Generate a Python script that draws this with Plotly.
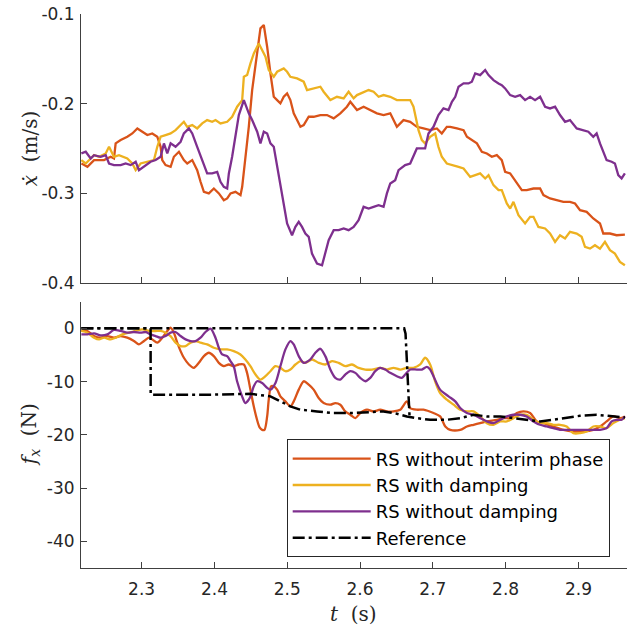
import plotly.graph_objects as go

# ---------------- data: top panel (velocity, m/s) ----------------
t_v_interim = [2.2172, 2.2255, 2.2346, 2.2483, 2.2575, 2.2620, 2.2643, 2.2712, 2.2803, 2.2872, 2.2941, 2.3009,
               2.3078, 2.3146, 2.3215, 2.3261, 2.3283, 2.3329, 2.3398, 2.3443, 2.3512, 2.3580, 2.3626, 2.3695,
               2.3763, 2.3809, 2.3855, 2.3923, 2.3992, 2.4061, 2.4129, 2.4175, 2.4221, 2.4289, 2.4358, 2.4381,
               2.4426, 2.4472, 2.4518, 2.4587, 2.4632, 2.4678, 2.4724, 2.4769, 2.4815, 2.4861, 2.4906, 2.4952,
               2.4998, 2.5043, 2.5089, 2.5135, 2.5181, 2.5226, 2.5295, 2.5363, 2.5455, 2.5546, 2.5638, 2.5729,
               2.5820, 2.5866, 2.5958, 2.6049, 2.6140, 2.6232, 2.6323, 2.6415, 2.6506, 2.6597, 2.6689, 2.6780,
               2.6872, 2.6963, 2.7055, 2.7123, 2.7192, 2.7239, 2.7331, 2.7422, 2.7468, 2.7559, 2.7605, 2.7673,
               2.7742, 2.7810, 2.7879, 2.7947, 2.7993, 2.8062, 2.8153, 2.8222, 2.8290, 2.8382, 2.8473, 2.8519,
               2.8610, 2.8702, 2.8793, 2.8884, 2.8953, 2.9022, 2.9113, 2.9204, 2.9296, 2.9341, 2.9433, 2.9524,
               2.9638]
v_interim = [-0.2667, -0.2704, -0.2629, -0.2629, -0.2592, -0.2611, -0.2443, -0.2406, -0.2369, -0.2332, -0.2276,
             -0.2313, -0.2350, -0.2332, -0.2369, -0.2481, -0.2629, -0.2685, -0.2704, -0.2592, -0.2536, -0.2629,
             -0.2667, -0.2629, -0.2741, -0.2871, -0.2983, -0.3001, -0.2946, -0.3001, -0.3076, -0.3057, -0.3001,
             -0.2983, -0.3020, -0.2927, -0.2629, -0.2258, -0.1848, -0.1439, -0.1160, -0.1123, -0.1365, -0.1662,
             -0.1923, -0.1960, -0.1997, -0.1923, -0.1885, -0.1960, -0.2108, -0.2183, -0.2258, -0.2239, -0.2146,
             -0.2146, -0.2127, -0.2127, -0.2164, -0.2108, -0.2034, -0.1979, -0.2071, -0.2034, -0.2071, -0.2108,
             -0.2127, -0.2108, -0.2258, -0.2183, -0.2202, -0.2258, -0.2276, -0.2295, -0.2276, -0.2332, -0.2258,
             -0.2258, -0.2276, -0.2295, -0.2369, -0.2425, -0.2443, -0.2536, -0.2555, -0.2592, -0.2574, -0.2629,
             -0.2760, -0.2778, -0.2890, -0.2964, -0.2964, -0.2946, -0.2946, -0.3020, -0.3057, -0.3076, -0.3095,
             -0.3095, -0.3113, -0.3188, -0.3206, -0.3280, -0.3336, -0.3448, -0.3448, -0.3467, -0.3460]

t_v_damp = [2.2172, 2.2232, 2.2300, 2.2346, 2.2415, 2.2506, 2.2552, 2.2620, 2.2689, 2.2758, 2.2803, 2.2872,
            2.2918, 2.2986, 2.3078, 2.3169, 2.3215, 2.3261, 2.3329, 2.3398, 2.3466, 2.3535, 2.3580, 2.3626,
            2.3695, 2.3763, 2.3832, 2.3900, 2.3969, 2.4015, 2.4083, 2.4175, 2.4243, 2.4312, 2.4381, 2.4404,
            2.4449, 2.4495, 2.4541, 2.4609, 2.4655, 2.4701, 2.4746, 2.4815, 2.4861, 2.4952, 2.4998, 2.5043,
            2.5135, 2.5226, 2.5272, 2.5363, 2.5455, 2.5500, 2.5592, 2.5683, 2.5775, 2.5843, 2.5912, 2.5958,
            2.6049, 2.6118, 2.6186, 2.6255, 2.6323, 2.6415, 2.6506, 2.6597, 2.6689, 2.6734, 2.6803, 2.6849,
            2.6894, 2.6963, 2.7032, 2.7077, 2.7123, 2.7192, 2.7285, 2.7353, 2.7422, 2.7513, 2.7582, 2.7650,
            2.7719, 2.7765, 2.7833, 2.7902, 2.7947, 2.8016, 2.8062, 2.8107, 2.8176, 2.8267, 2.8336, 2.8382,
            2.8450, 2.8542, 2.8610, 2.8679, 2.8747, 2.8816, 2.8884, 2.8976, 2.9044, 2.9090, 2.9159, 2.9227,
            2.9296, 2.9364, 2.9433, 2.9501, 2.9570, 2.9638]
v_damp = [-0.2629, -0.2667, -0.2611, -0.2574, -0.2592, -0.2555, -0.2481, -0.2592, -0.2574, -0.2592, -0.2611,
          -0.2667, -0.2741, -0.2667, -0.2648, -0.2629, -0.2481, -0.2369, -0.2350, -0.2332, -0.2295, -0.2239,
          -0.2202, -0.2258, -0.2239, -0.2276, -0.2220, -0.2183, -0.2202, -0.2183, -0.2220, -0.2202, -0.2146,
          -0.2034, -0.1960, -0.1700, -0.1681, -0.1551, -0.1439, -0.1328, -0.1402, -0.1476, -0.1625, -0.1700,
          -0.1644, -0.1607, -0.1644, -0.1700, -0.1718, -0.1755, -0.1848, -0.1830, -0.1811, -0.1867, -0.1960,
          -0.1923, -0.1941, -0.1867, -0.1941, -0.1904, -0.1867, -0.1848, -0.1867, -0.1923, -0.1904, -0.1923,
          -0.1960, -0.1960, -0.1960, -0.2034, -0.2295, -0.2406, -0.2443, -0.2369, -0.2332, -0.2481, -0.2592,
          -0.2667, -0.2685, -0.2704, -0.2723, -0.2816, -0.2797, -0.2778, -0.2834, -0.2797, -0.2909, -0.2964,
          -0.2964, -0.3113, -0.3169, -0.3095, -0.3243, -0.3336, -0.3262, -0.3262, -0.3374, -0.3392, -0.3448,
          -0.3541, -0.3467, -0.3504, -0.3430, -0.3448, -0.3485, -0.3597, -0.3616, -0.3578, -0.3616, -0.3541,
          -0.3634, -0.3672, -0.3765, -0.3802]

t_v_nodamp = [2.2172, 2.2232, 2.2300, 2.2346, 2.2437, 2.2506, 2.2552, 2.2620, 2.2712, 2.2780, 2.2849, 2.2918,
              2.2963, 2.3032, 2.3123, 2.3192, 2.3261, 2.3306, 2.3352, 2.3398, 2.3466, 2.3535, 2.3580, 2.3649,
              2.3695, 2.3763, 2.3832, 2.3900, 2.3969, 2.4038, 2.4083, 2.4129, 2.4175, 2.4198, 2.4243, 2.4289,
              2.4335, 2.4404, 2.4472, 2.4518, 2.4587, 2.4632, 2.4678, 2.4724, 2.4769, 2.4815, 2.4861, 2.4906,
              2.4952, 2.4998, 2.5066, 2.5112, 2.5158, 2.5203, 2.5249, 2.5295, 2.5340, 2.5409, 2.5478, 2.5523,
              2.5569, 2.5638, 2.5706, 2.5775, 2.5843, 2.5912, 2.5980, 2.6049, 2.6118, 2.6186, 2.6255, 2.6323,
              2.6369, 2.6415, 2.6483, 2.6529, 2.6620, 2.6689, 2.6734, 2.6780, 2.6849, 2.6894, 2.6940, 2.7009,
              2.7077, 2.7146, 2.7215, 2.7262, 2.7308, 2.7353, 2.7422, 2.7490, 2.7536, 2.7582, 2.7650, 2.7719,
              2.7765, 2.7833, 2.7902, 2.7947, 2.7993, 2.8062, 2.8130, 2.8199, 2.8267, 2.8336, 2.8404, 2.8473,
              2.8542, 2.8610, 2.8679, 2.8747, 2.8816, 2.8884, 2.8976, 2.9067, 2.9136, 2.9204, 2.9250, 2.9296,
              2.9341, 2.9387, 2.9456, 2.9501, 2.9547, 2.9593, 2.9638]
v_nodamp = [-0.2555, -0.2536, -0.2611, -0.2574, -0.2592, -0.2574, -0.2667, -0.2685, -0.2685, -0.2667, -0.2685,
            -0.2648, -0.2741, -0.2704, -0.2648, -0.2629, -0.2592, -0.2443, -0.2555, -0.2443, -0.2481, -0.2425,
            -0.2332, -0.2276, -0.2332, -0.2481, -0.2629, -0.2778, -0.2778, -0.2760, -0.2871, -0.2927, -0.2946,
            -0.2778, -0.2592, -0.2332, -0.2127, -0.1960, -0.2108, -0.2183, -0.2313, -0.2443, -0.2313, -0.2332,
            -0.2443, -0.2481, -0.2704, -0.2890, -0.3150, -0.3336, -0.3467, -0.3374, -0.3318, -0.3374, -0.3448,
            -0.3485, -0.3672, -0.3783, -0.3802, -0.3672, -0.3523, -0.3411, -0.3411, -0.3392, -0.3411, -0.3374,
            -0.3299, -0.3150, -0.3169, -0.3150, -0.3132, -0.3150, -0.3001, -0.2890, -0.2853, -0.2741, -0.2685,
            -0.2667, -0.2574, -0.2499, -0.2499, -0.2499, -0.2332, -0.2258, -0.2127, -0.2053, -0.2071, -0.1979,
            -0.1923, -0.1811, -0.1774, -0.1774, -0.1755, -0.1662, -0.1681, -0.1625, -0.1681, -0.1737, -0.1774,
            -0.1793, -0.1830, -0.1904, -0.1923, -0.1904, -0.1960, -0.1923, -0.1960, -0.1923, -0.2034, -0.2053,
            -0.2034, -0.2127, -0.2202, -0.2183, -0.2276, -0.2295, -0.2313, -0.2369, -0.2332, -0.2443, -0.2536,
            -0.2629, -0.2648, -0.2667, -0.2797, -0.2834, -0.2778]

# ---------------- data: bottom panel (force, N) ----------------
t_f_interim = [2.2172, 2.2255, 2.2346, 2.2437, 2.2529, 2.2620, 2.2712, 2.2803, 2.2894, 2.2963, 2.3032, 2.3100,
               2.3146, 2.3215, 2.3283, 2.3352, 2.3397, 2.3443, 2.3489, 2.3535, 2.3580, 2.3649, 2.3717, 2.3786,
               2.3855, 2.3923, 2.3991, 2.4060, 2.4128, 2.4197, 2.4265, 2.4334, 2.4403, 2.4448, 2.4494, 2.4540,
               2.4585, 2.4620, 2.4655, 2.4687, 2.4724, 2.4746, 2.4778, 2.4815, 2.4861, 2.4906, 2.4975, 2.5043,
               2.5089, 2.5158, 2.5226, 2.5295, 2.5363, 2.5432, 2.5500, 2.5592, 2.5660, 2.5729, 2.5797, 2.5866,
               2.5935, 2.6003, 2.6095, 2.6186, 2.6277, 2.6369, 2.6460, 2.6552, 2.6643, 2.6689, 2.6780, 2.6871,
               2.7009, 2.7100, 2.7171, 2.7239, 2.7376, 2.7468, 2.7559, 2.7650, 2.7742, 2.7879, 2.7970, 2.8062,
               2.8153, 2.8245, 2.8336, 2.8427, 2.8519, 2.8656, 2.8793, 2.8930, 2.9067, 2.9204, 2.9296, 2.9387,
               2.9478, 2.9570, 2.9638]
f_interim = [-0.50, -0.50, -1.45, -1.76, -1.45, -1.76, -1.45, -1.76, -2.39, -3.02, -2.39, -1.76, -2.08, -2.70,
             -1.76, -0.50, 0.13, -0.82, -2.70, -4.28, -5.53, -6.79, -7.42, -6.48, -5.22, -4.59, -5.22, -6.48,
             -7.11, -6.79, -7.11, -6.79, -6.79, -8.36, -11.51, -14.65, -17.17, -18.60, -19.06, -19.06, -16.54,
             -13.40, -10.88, -10.88, -11.51, -12.77, -13.71, -14.65, -13.71, -11.51, -9.94, -10.57, -11.51,
             -13.08, -14.03, -14.34, -14.03, -14.34, -15.60, -16.23, -16.86, -15.91, -15.28, -15.60, -15.28,
             -15.60, -15.60, -15.28, -13.71, -14.97, -15.28, -15.28, -15.91, -16.54, -18.43, -19.06, -19.06,
             -18.43, -18.11, -17.80, -17.48, -17.17, -16.86, -16.86, -15.91, -15.60, -15.91, -17.48, -17.80,
             -18.43, -19.06, -19.37, -19.37, -19.06, -18.43, -17.48, -16.54, -16.86, -16.54]

t_f_damp = [2.2172, 2.2255, 2.2346, 2.2415, 2.2483, 2.2575, 2.2643, 2.2735, 2.2826, 2.2917, 2.3009, 2.3100,
            2.3192, 2.3260, 2.3329, 2.3397, 2.3466, 2.3535, 2.3603, 2.3672, 2.3740, 2.3809, 2.3900, 2.3991,
            2.4083, 2.4174, 2.4265, 2.4357, 2.4425, 2.4494, 2.4564, 2.4632, 2.4701, 2.4769, 2.4838, 2.4906,
            2.4975, 2.5043, 2.5112, 2.5181, 2.5249, 2.5340, 2.5432, 2.5523, 2.5615, 2.5706, 2.5797, 2.5889,
            2.5980, 2.6072, 2.6163, 2.6277, 2.6369, 2.6460, 2.6552, 2.6643, 2.6734, 2.6826, 2.6894, 2.6963,
            2.7031, 2.7100, 2.7193, 2.7285, 2.7376, 2.7468, 2.7559, 2.7650, 2.7742, 2.7833, 2.7925, 2.8016,
            2.8107, 2.8199, 2.8290, 2.8382, 2.8473, 2.8564, 2.8656, 2.8747, 2.8839, 2.8930, 2.9022, 2.9113,
            2.9204, 2.9296, 2.9387, 2.9478, 2.9570, 2.9638]
f_damp = [-0.50, -0.82, -1.76, -2.08, -1.76, -2.08, -1.76, -1.13, -0.82, -0.50, -0.19, -0.50, -0.50, -0.50,
          -0.82, -1.45, -2.70, -3.33, -3.33, -2.70, -2.39, -2.70, -3.02, -3.65, -3.96, -3.96, -4.28, -4.91,
          -5.85, -7.11, -8.68, -9.62, -8.99, -8.05, -7.11, -7.42, -8.05, -7.74, -6.79, -6.16, -6.48, -5.85,
          -6.48, -6.79, -6.16, -6.48, -7.11, -6.79, -7.42, -7.74, -7.74, -7.42, -7.74, -7.42, -7.74, -7.42,
          -7.42, -6.79, -5.53, -6.79, -9.94, -12.14, -13.40, -14.34, -15.28, -15.60, -15.60, -16.54, -17.80,
          -18.11, -17.48, -17.48, -16.86, -16.23, -16.23, -17.17, -17.80, -17.80, -18.11, -18.11, -18.43,
          -19.69, -19.69, -19.37, -18.43, -18.43, -18.74, -17.80, -17.17, -16.86]

t_f_nodamp = [2.2172, 2.2255, 2.2346, 2.2437, 2.2529, 2.2620, 2.2712, 2.2803, 2.2894, 2.2986, 2.3055, 2.3123,
              2.3192, 2.3260, 2.3329, 2.3397, 2.3466, 2.3535, 2.3603, 2.3672, 2.3740, 2.3809, 2.3877, 2.3946,
              2.4014, 2.4060, 2.4106, 2.4174, 2.4220, 2.4265, 2.4311, 2.4380, 2.4425, 2.4471, 2.4495, 2.4541,
              2.4586, 2.4655, 2.4724, 2.4769, 2.4838, 2.4906, 2.4975, 2.5043, 2.5089, 2.5158, 2.5226, 2.5318,
              2.5386, 2.5455, 2.5523, 2.5592, 2.5660, 2.5729, 2.5797, 2.5866, 2.5935, 2.6003, 2.6072, 2.6140,
              2.6209, 2.6277, 2.6346, 2.6414, 2.6506, 2.6574, 2.6620, 2.6689, 2.6780, 2.6849, 2.6917, 2.6963,
              2.7009, 2.7100, 2.7216, 2.7308, 2.7376, 2.7468, 2.7559, 2.7650, 2.7742, 2.7833, 2.7925, 2.8016,
              2.8107, 2.8199, 2.8290, 2.8382, 2.8473, 2.8564, 2.8656, 2.8747, 2.8839, 2.8930, 2.9022, 2.9113,
              2.9204, 2.9296, 2.9387, 2.9456, 2.9524, 2.9593, 2.9638]
f_nodamp = [-1.13, -1.13, -0.94, -1.32, -1.13, -0.31, -0.50, -0.82, -0.69, -0.82, -0.69, -1.13, -1.45, -1.76,
            -1.45, -0.82, -0.69, -1.45, -2.08, -2.39, -2.39, -1.76, -0.69, -0.06, -1.76, -3.65, -4.91, -5.22,
            -6.16, -7.11, -9.94, -12.77, -14.03, -13.40, -12.77, -10.88, -9.94, -10.25, -11.19, -11.51, -10.25,
            -7.11, -3.96, -2.39, -3.02, -5.22, -6.48, -5.85, -4.59, -3.84, -5.22, -7.74, -9.31, -9.62, -8.68,
            -8.05, -8.36, -9.31, -9.94, -9.31, -8.05, -7.42, -7.74, -8.36, -8.99, -9.31, -8.68, -7.74, -7.74,
            -7.74, -7.23, -7.74, -8.99, -11.51, -12.77, -13.71, -14.97, -15.91, -16.23, -16.86, -17.48, -17.80,
            -17.17, -16.54, -16.23, -16.23, -16.54, -17.48, -18.11, -18.43, -18.74, -19.06, -19.06, -19.06,
            -19.06, -19.06, -19.06, -19.06, -18.74, -17.48, -17.17, -17.17, -16.54]

# reference force: early switch and late switch
t_ref_a = [2.2172, 2.3123, 2.3124, 2.3600, 2.4000, 2.4495, 2.4769, 2.5043, 2.5181, 2.5409, 2.5638, 2.5866,
           2.6095, 2.6323, 2.6506, 2.6643, 2.6780, 2.6963, 2.7191, 2.7376, 2.7559, 2.7742, 2.7925, 2.8107,
           2.8290, 2.8473, 2.8656, 2.8839, 2.9022, 2.9250, 2.9433, 2.9638]
f_ref_a = [0.0, 0.0, -12.45, -12.45, -12.45, -12.30, -12.77, -14.65, -15.28, -15.60, -15.91, -15.91, -15.79,
           -15.60, -16.04, -16.54, -16.86, -17.17, -17.17, -16.86, -16.23, -16.54, -16.54, -16.86, -17.17,
           -17.48, -17.17, -16.86, -16.42, -16.23, -16.42, -16.73]
t_ref_b = [2.2172, 2.6606, 2.6625, 2.6660, 2.6680]
f_ref_b = [0.0, 0.0, -1.0, -12.0, -16.5]

x_ticks = [2.3, 2.4, 2.5, 2.6, 2.7, 2.8, 2.9]
x_tick_text = ["2.3", "2.4", "2.5", "2.6", "2.7", "2.8", "2.9"]
v_ticks = [-0.4, -0.3, -0.2, -0.1]
v_tick_text = ["-0.4", "-0.3", "-0.2", "-0.1"]
f_ticks = [-40, -30, -20, -10, 0]
f_tick_text = ["-40", "-30", "-20", "-10", "0"]

names = ["RS without interim phase", "RS with damping", "RS without damping", "Reference"]
colors = ["#D95319", "#EDB120", "#7E2F8E", "#000000"]

# ---------------- figure ----------------
fig = go.Figure()
top = [(t_v_interim, v_interim), (t_v_damp, v_damp), (t_v_nodamp, v_nodamp)]
for (tt, vv), c in zip(top, colors):
    fig.add_trace(go.Scatter(x=tt, y=vv, mode="lines", line=dict(color=c, width=2.3),
                             showlegend=False, xaxis="x", yaxis="y", hoverinfo="skip"))

bottom = [(t_f_interim, f_interim), (t_f_damp, f_damp), (t_f_nodamp, f_nodamp)]
for (tt, ff), c, n in zip(bottom, colors, names):
    fig.add_trace(go.Scatter(x=tt, y=ff, mode="lines", name=n,
                             line=dict(color=c, width=2.3, shape="spline", smoothing=0.8),
                             xaxis="x2", yaxis="y2"))
ref_dash = "12px,4px,3px,4px"
fig.add_trace(go.Scatter(x=t_ref_a, y=f_ref_a, mode="lines", name=names[3],
                         line=dict(color="black", width=2.5, dash=ref_dash),
                         xaxis="x2", yaxis="y2"))
fig.add_trace(go.Scatter(x=t_ref_b, y=f_ref_b, mode="lines", name=names[3], showlegend=False,
                         line=dict(color="black", width=2.5, dash=ref_dash),
                         xaxis="x2", yaxis="y2"))

axis_col = "#404040"
sans = "DejaVu Sans, Liberation Sans, Arial, sans-serif"
serif = "DejaVu Serif, Liberation Serif, serif"
tick_font = dict(family=sans, size=17, color="#262626")
xr = [2.2167, 2.9667]
common_x = dict(range=xr, tickvals=x_ticks, ticktext=x_tick_text, ticks="inside", ticklen=6,
                tickcolor=axis_col, showline=True, linecolor=axis_col, linewidth=1, mirror=False,
                showgrid=False, zeroline=False, tickfont=tick_font, automargin=False)
common_y = dict(ticks="inside", ticklen=6, tickcolor=axis_col, showline=True, linecolor=axis_col,
                linewidth=1, mirror=False, showgrid=False, zeroline=False, tickfont=tick_font,
                automargin=False, ticklabelstandoff=2)

fig.update_layout(
    width=641, height=626, autosize=False,
    margin=dict(l=81, r=14, t=14, b=58),
    paper_bgcolor="white", plot_bgcolor="white",
    xaxis=dict(domain=[0, 1], anchor="y", showticklabels=False, **common_x),
    yaxis=dict(domain=[0.5144, 1], anchor="x", range=[-0.4, -0.1], tickvals=v_ticks,
               ticktext=v_tick_text, **common_y),
    xaxis2=dict(domain=[0, 1], anchor="y2", ticklabelstandoff=6, **common_x),
    yaxis2=dict(domain=[0, 0.4807], anchor="x2", range=[-45, 5], tickvals=f_ticks,
                ticktext=f_tick_text, **common_y),
    legend=dict(x=0.9683, xanchor="right", y=0.2321, yanchor="top",
                bgcolor="white", bordercolor="#262626", borderwidth=1,
                font=dict(family=sans, size=18, color="#000000"),
                itemwidth=78, tracegroupgap=0),
    annotations=[
        dict(text="<i>ẋ</i>  (m/s)", xref="paper", yref="paper", x=-0.093, y=0.758,
             xanchor="center", yanchor="middle", textangle=-90, showarrow=False,
             font=dict(family=serif, size=20, color="#262626")),
        dict(text="<i>f<sub>x</sub></i>  (N)", xref="paper", yref="paper", x=-0.093, y=0.240,
             xanchor="center", yanchor="middle", textangle=-90, showarrow=False,
             font=dict(family=serif, size=20, color="#262626")),
        dict(text="<i>t</i>  (s)", xref="paper", yref="paper", x=0.4987, y=-0.083,
             xanchor="center", yanchor="middle", showarrow=False,
             font=dict(family=serif, size=20, color="#262626")),
    ],
)

fig.write_html("out.html")
